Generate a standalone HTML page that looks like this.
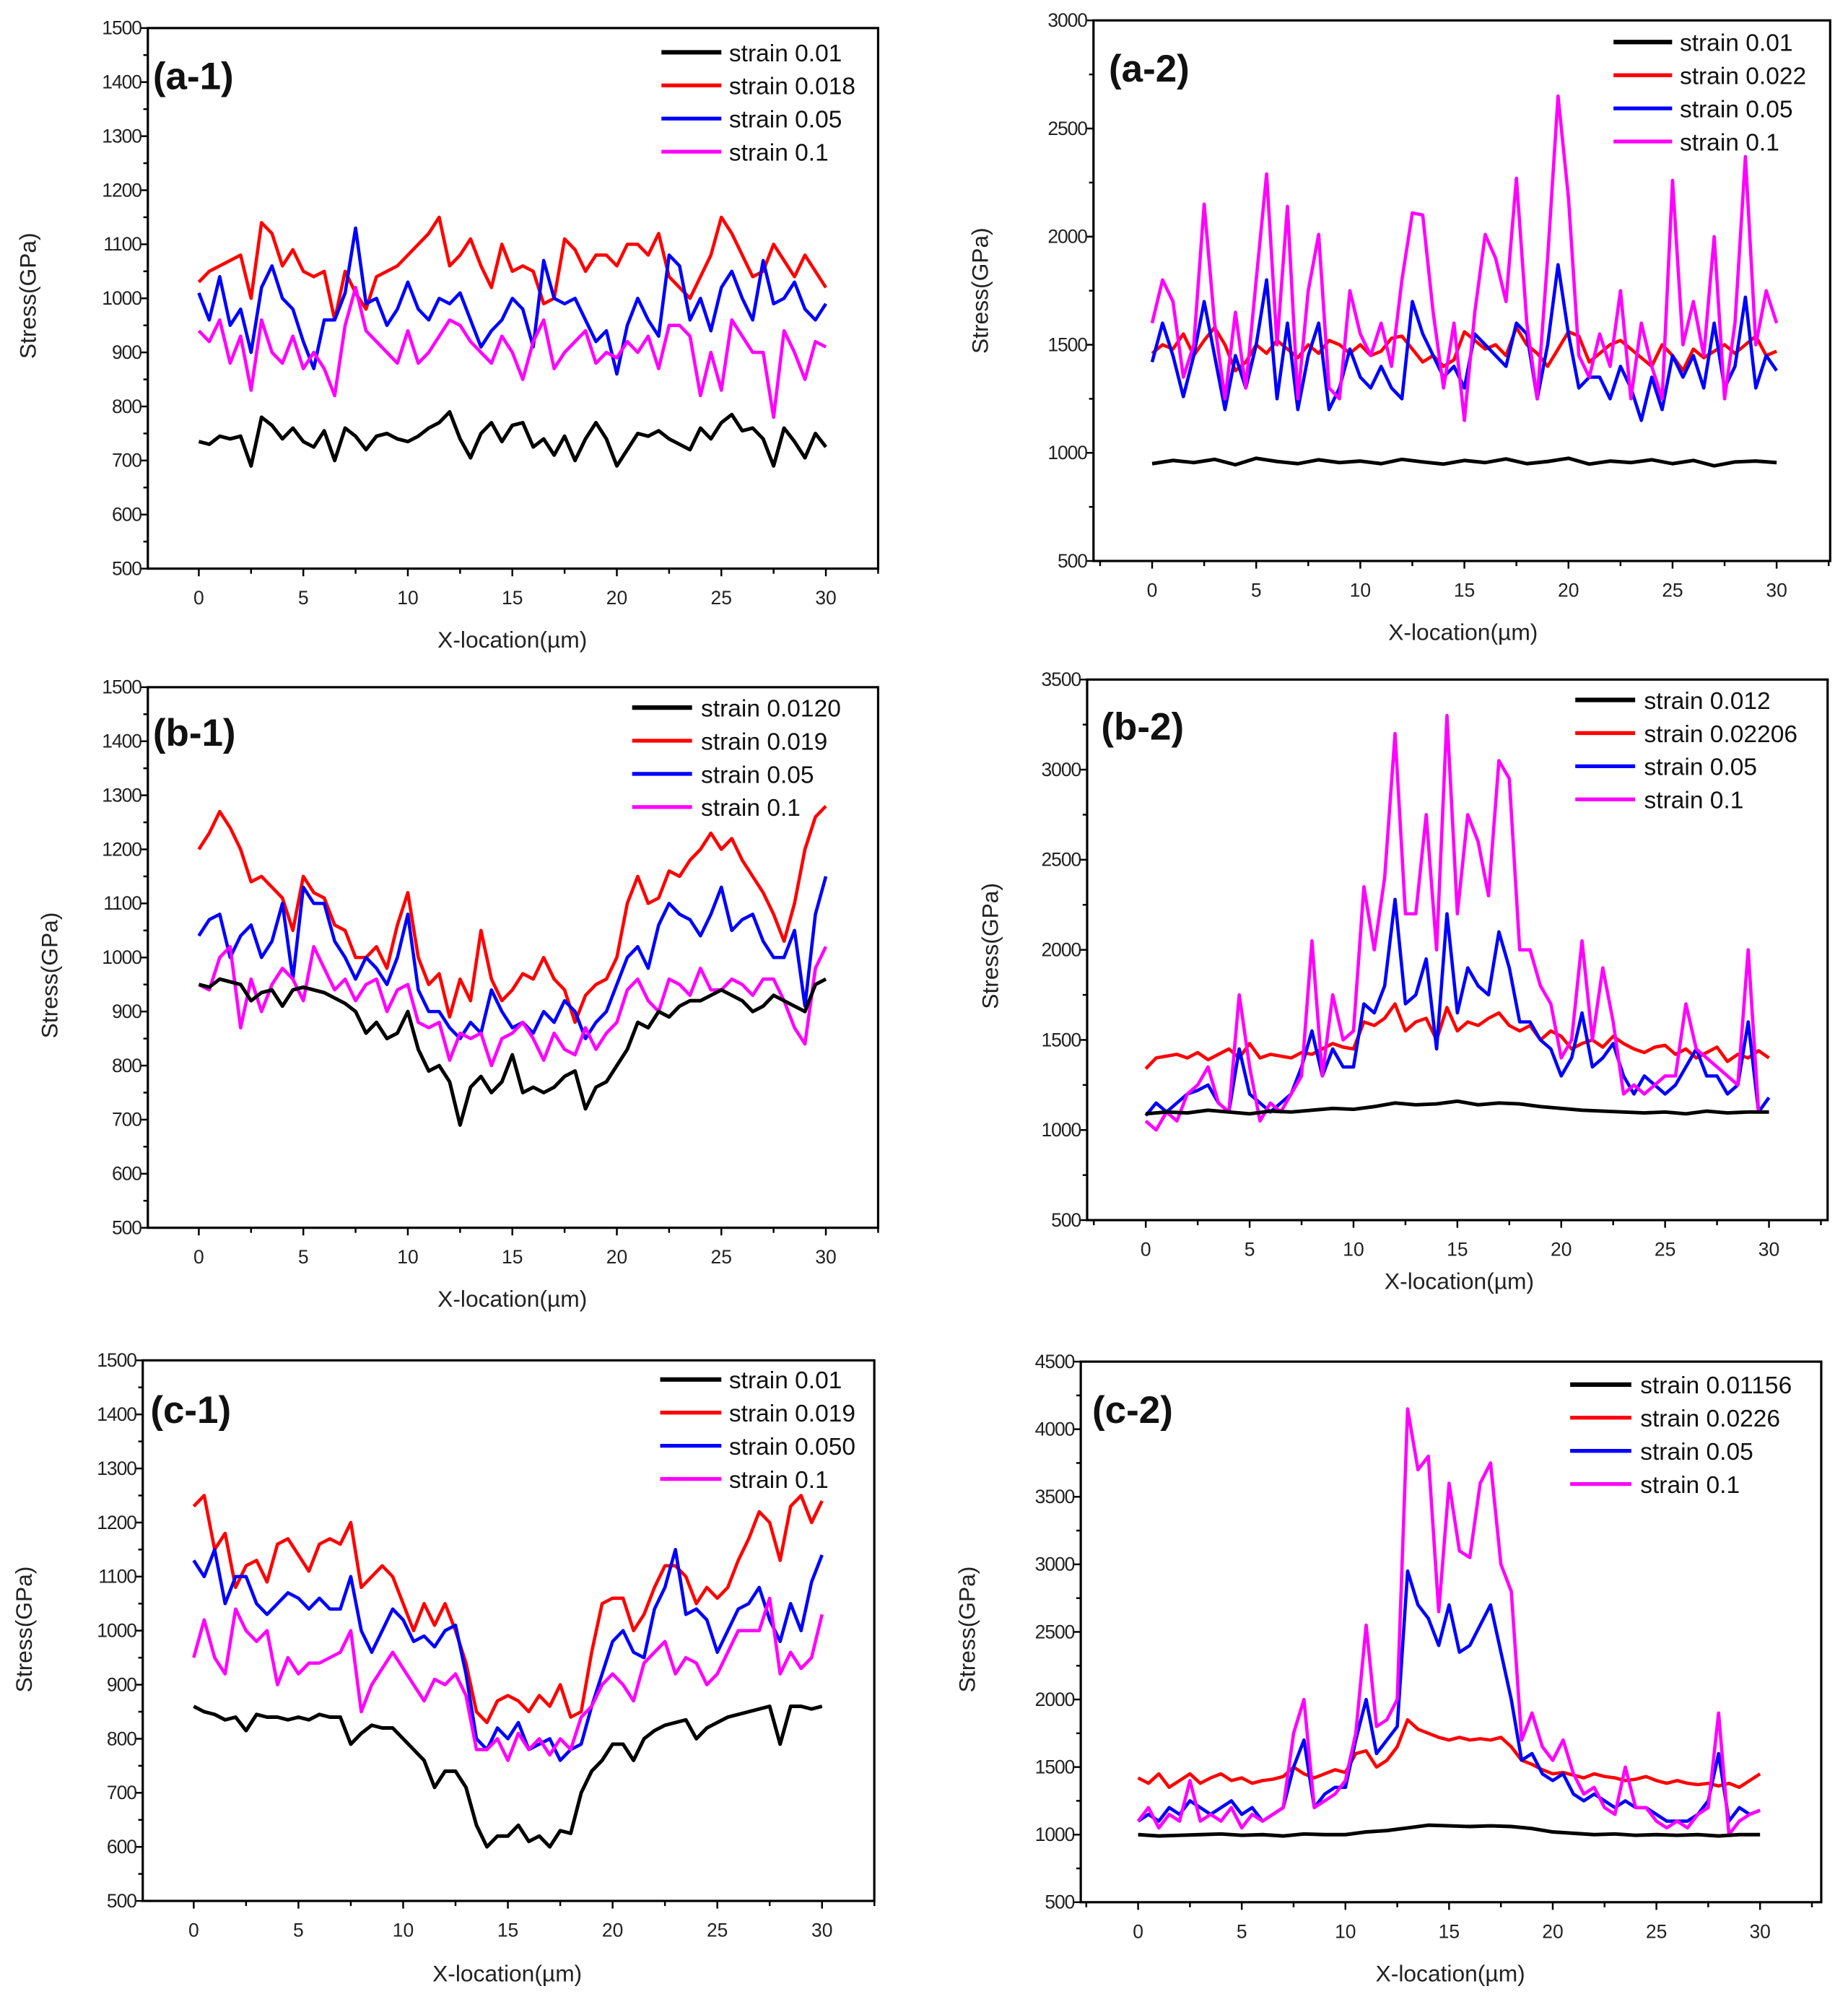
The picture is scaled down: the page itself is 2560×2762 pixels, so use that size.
<!DOCTYPE html>
<html><head><meta charset="utf-8"><style>
html,body{margin:0;padding:0;background:#fff;}
svg{display:block;font-family:"Liberation Sans",Arial,sans-serif;}
</style></head><body>
<svg id="fig" width="2560" height="2762" viewBox="0 0 1450 1564" preserveAspectRatio="none" xmlns="http://www.w3.org/2000/svg"></svg>
<script>
// ---- data (x spans 0..30 µm, evenly spaced samples) ----
const xTickLabels=["0","5","10","15","20","25","30"];
const a1Black=[735,730,745,740,745,690,780,765,740,760,735,725,755,700,760,745,720,745,750,740,735,745,760,770,790,740,705,750,770,735,765,770,725,740,710,745,700,740,770,740,690,720,750,745,755,740,730,720,760,740,770,785,755,760,740,690,760,735,705,750,725];
const a1Red=[1030,1050,1060,1070,1080,1000,1140,1120,1060,1090,1050,1040,1050,960,1050,1010,980,1040,1050,1060,1080,1100,1120,1150,1060,1080,1110,1060,1020,1100,1050,1060,1050,990,1000,1110,1090,1050,1080,1080,1060,1100,1100,1080,1120,1040,1020,1000,1040,1080,1150,1120,1080,1040,1050,1100,1070,1040,1080,1050,1020];
const a1Blue=[1010,960,1040,950,980,900,1020,1060,1000,980,920,870,960,960,1010,1130,990,1000,950,980,1030,980,960,1000,990,1010,960,910,940,960,1000,980,910,1070,1000,990,1000,960,920,940,860,950,1000,960,930,1080,1060,960,1000,940,1020,1050,1000,960,1070,990,1000,1030,980,960,990];
const a1Mag=[940,920,960,880,930,830,960,900,880,930,870,900,870,820,950,1020,940,920,900,880,940,880,900,930,960,950,920,900,880,930,900,850,920,960,870,900,920,940,880,900,890,920,900,930,870,950,950,930,820,900,830,960,930,900,900,780,940,900,850,920,910];

const a2Black=[950,965,955,970,945,975,960,950,968,955,962,950,970,958,948,965,955,972,950,960,975,948,962,955,968,950,965,940,958,962,955];
const a2Red=[1460,1500,1480,1550,1450,1520,1580,1500,1380,1420,1500,1460,1520,1480,1440,1500,1460,1520,1500,1460,1500,1450,1470,1530,1540,1480,1420,1450,1400,1430,1560,1520,1480,1500,1450,1580,1500,1460,1400,1480,1560,1540,1420,1460,1500,1520,1480,1440,1400,1500,1450,1380,1480,1440,1470,1500,1460,1500,1540,1450,1470];
const a2Blue=[1420,1600,1450,1260,1450,1700,1450,1200,1450,1300,1500,1800,1250,1600,1200,1450,1600,1200,1300,1480,1350,1300,1400,1300,1250,1700,1550,1450,1350,1400,1300,1550,1500,1450,1400,1600,1550,1250,1500,1870,1550,1300,1350,1350,1250,1400,1300,1150,1350,1200,1450,1350,1450,1300,1600,1300,1400,1720,1300,1450,1380];
const a2Mag=[1600,1800,1700,1350,1500,2150,1600,1250,1650,1300,1800,2290,1500,2140,1250,1750,2010,1300,1250,1750,1550,1450,1600,1400,1800,2110,2100,1650,1300,1600,1150,1650,2010,1900,1700,2270,1600,1250,1900,2650,2180,1450,1350,1550,1400,1750,1250,1600,1400,1250,2260,1500,1700,1450,2000,1250,1600,2370,1500,1750,1600];

const b1Black=[950,945,960,955,950,920,935,940,910,940,945,940,935,925,915,900,860,880,850,860,900,830,790,800,770,690,760,780,750,770,820,750,760,750,760,780,790,720,760,770,800,830,880,870,900,890,910,920,920,930,940,930,920,900,910,930,920,910,900,950,960];
const b1Red=[1200,1230,1270,1240,1200,1140,1150,1130,1110,1050,1150,1120,1110,1060,1050,1000,1000,1020,980,1060,1120,1000,950,970,890,960,920,1050,960,920,940,970,960,1000,960,940,880,930,950,960,1000,1100,1150,1100,1110,1160,1150,1180,1200,1230,1200,1220,1180,1150,1120,1080,1030,1100,1200,1260,1280];
const b1Blue=[1040,1070,1080,1000,1040,1060,1000,1030,1100,960,1130,1100,1100,1030,1000,960,1000,980,950,1000,1080,940,900,900,870,850,880,860,940,900,870,880,860,900,880,920,900,850,880,900,950,1000,1020,980,1060,1100,1080,1070,1040,1080,1130,1050,1070,1080,1030,1000,1000,1050,910,1080,1150];
const b1Mag=[950,940,1000,1020,870,960,900,950,980,960,920,1020,980,940,960,920,950,960,900,940,950,880,870,880,810,860,850,860,800,850,860,880,850,810,860,830,820,870,830,860,880,940,960,920,900,960,950,930,980,940,940,960,950,930,960,960,920,870,840,980,1020];

const b2Black=[1090,1100,1095,1110,1100,1090,1105,1100,1110,1120,1115,1130,1150,1140,1145,1160,1140,1150,1145,1130,1120,1110,1105,1100,1095,1100,1090,1105,1095,1100,1100];
const b2Red=[1340,1400,1410,1420,1400,1430,1390,1420,1450,1400,1480,1400,1420,1410,1400,1430,1420,1450,1480,1460,1450,1600,1580,1620,1700,1550,1600,1620,1500,1680,1550,1600,1580,1620,1650,1580,1550,1580,1500,1550,1520,1450,1480,1500,1460,1520,1480,1450,1430,1460,1470,1420,1450,1400,1430,1460,1380,1420,1400,1440,1400];
const b2Blue=[1080,1150,1100,1150,1200,1220,1250,1150,1100,1450,1200,1150,1100,1150,1200,1350,1550,1300,1450,1350,1350,1700,1650,1800,2280,1700,1750,1950,1450,2200,1650,1900,1800,1750,2100,1900,1600,1600,1500,1450,1300,1400,1650,1350,1400,1480,1300,1200,1300,1250,1200,1250,1350,1450,1300,1300,1200,1250,1600,1100,1180];
const b2Mag=[1050,1000,1100,1050,1200,1250,1350,1150,1100,1750,1350,1050,1150,1100,1200,1300,2050,1300,1750,1500,1550,2350,2000,2400,3200,2200,2200,2750,2000,3300,2200,2750,2600,2300,3050,2950,2000,2000,1800,1700,1400,1500,2050,1500,1900,1600,1200,1250,1200,1250,1300,1300,1700,1450,1400,1350,1300,1250,2000,1100,1100];

const c1Black=[860,850,845,835,840,815,845,840,840,835,840,835,845,840,840,790,810,825,820,820,800,780,760,710,740,740,710,640,600,620,620,640,610,620,600,630,625,700,740,760,790,790,760,800,815,825,830,835,800,820,830,840,845,850,855,860,790,860,860,855,860];
const c1Red=[1230,1250,1150,1180,1080,1120,1130,1090,1160,1170,1140,1110,1160,1170,1160,1200,1080,1100,1120,1100,1050,1000,1050,1010,1050,1000,940,850,830,870,880,870,850,880,860,900,840,850,960,1050,1060,1060,1000,1030,1080,1120,1120,1100,1050,1080,1060,1080,1130,1170,1220,1200,1130,1230,1250,1200,1240];
const c1Blue=[1130,1100,1150,1050,1100,1100,1050,1030,1050,1070,1060,1040,1060,1040,1040,1100,1000,960,1000,1040,1020,980,990,970,1000,1010,920,800,780,820,800,830,780,790,800,760,780,790,860,920,980,1000,960,950,1040,1080,1150,1030,1040,1020,960,1000,1040,1050,1080,1020,980,1050,1000,1090,1140];
const c1Mag=[950,1020,950,920,1040,1000,980,1000,900,950,920,940,940,950,960,1000,850,900,930,960,930,900,870,910,900,920,880,780,780,800,760,810,780,800,770,800,780,840,860,900,920,900,870,940,960,980,920,950,940,900,920,960,1000,1000,1000,1060,920,960,930,950,1030];

const c2Black=[1000,990,995,1000,1005,995,1000,990,1005,1000,1000,1020,1030,1050,1070,1065,1060,1065,1060,1045,1020,1010,1000,1005,995,1000,995,1000,990,1000,1000];
const c2Red=[1420,1380,1450,1350,1400,1450,1380,1420,1450,1400,1420,1380,1400,1410,1430,1500,1450,1420,1450,1480,1460,1600,1620,1500,1550,1650,1850,1780,1750,1720,1700,1720,1700,1710,1700,1720,1650,1550,1520,1480,1450,1460,1440,1420,1450,1430,1420,1400,1410,1430,1400,1380,1400,1380,1370,1380,1360,1380,1350,1400,1450];
const c2Blue=[1100,1150,1100,1200,1150,1250,1200,1150,1200,1250,1150,1200,1100,1150,1200,1500,1700,1200,1300,1350,1350,1700,2000,1600,1700,1800,2950,2700,2600,2400,2700,2350,2400,2550,2700,2350,2000,1550,1600,1450,1400,1450,1300,1250,1300,1250,1200,1250,1200,1200,1150,1100,1100,1100,1150,1250,1600,1100,1200,1150,1180];
const c2Mag=[1100,1200,1050,1150,1100,1400,1100,1150,1100,1200,1050,1150,1100,1150,1200,1750,2000,1200,1250,1300,1400,1750,2550,1800,1850,2000,4150,3700,3800,2650,3600,3100,3050,3600,3750,3000,2800,1700,1900,1650,1550,1700,1450,1300,1350,1200,1150,1500,1200,1200,1100,1050,1100,1050,1150,1200,1900,1000,1100,1150,1180];

const legA1=["strain 0.01","strain 0.018","strain 0.05","strain 0.1"];
const legA2=["strain 0.01","strain 0.022","strain 0.05","strain 0.1"];
const legB1=["strain 0.0120","strain 0.019","strain 0.05","strain 0.1"];
const legB2=["strain 0.012","strain 0.02206","strain 0.05","strain 0.1"];
const legC1=["strain 0.01","strain 0.019","strain 0.050","strain 0.1"];
const legC2=["strain 0.01156","strain 0.0226","strain 0.05","strain 0.1"];

const NS="http://www.w3.org/2000/svg";
const svg=document.getElementById('fig');
const COLORS=["#000000","#ff0000","#0000ff","#ff00ff"];
function mk(tag,attrs,parent){const e=document.createElementNS(NS,tag);for(const k in attrs)e.setAttribute(k,attrs[k]);(parent||svg).appendChild(e);return e;}

const panels=[
 {id:"a-1",L:116,R:689,T:22,B:446,x0:156,x30:648,ymin:500,ymax:1500,ystep:100,series:[a1Black,a1Red,a1Blue,a1Mag],leg:legA1,lbl:[120,70],lx:[519,566,572],ly:41,yl:[28,232],xl:[402,508]},
 {id:"a-2",L:858,R:1436,T:16,B:440,x0:904,x30:1394,ymin:500,ymax:3000,ystep:500,series:[a2Black,a2Red,a2Blue,a2Mag],leg:legA2,lbl:[870,64],lx:[1266,1312,1318],ly:33,yl:[775,228],xl:[1148,502]},
 {id:"b-1",L:116,R:689,T:539,B:963,x0:156,x30:648,ymin:500,ymax:1500,ystep:100,series:[b1Black,b1Red,b1Blue,b1Mag],leg:legB1,lbl:[120,585],lx:[496,543,550],ly:555,yl:[45,765],xl:[402,1025]},
 {id:"b-2",L:853,R:1434,T:533,B:957,x0:899,x30:1388,ymin:500,ymax:3500,ystep:500,series:[b2Black,b2Red,b2Blue,b2Mag],leg:legB2,lbl:[864,580],lx:[1236,1283,1290],ly:549,yl:[783,742],xl:[1145,1011]},
 {id:"c-1",L:112,R:686,T:1067,B:1491,x0:152,x30:645,ymin:500,ymax:1500,ystep:100,series:[c1Black,c1Red,c1Blue,c1Mag],leg:legC1,lbl:[118,1116],lx:[518,566,572],ly:1082,yl:[25,1278],xl:[398,1554]},
 {id:"c-2",L:848,R:1429,T:1068,B:1492,x0:893,x30:1381,ymin:500,ymax:4500,ystep:500,series:[c2Black,c2Red,c2Blue,c2Mag],leg:legC2,lbl:[857,1116],lx:[1232,1280,1287],ly:1086,yl:[765,1278],xl:[1138,1554]}
];

panels.forEach(p=>{
  const g=mk('g',{});
  
  
  const xs=v=>p.x0+(p.x30-p.x0)*v/30;
  const ys=v=>p.B-(p.B-p.T)*(v-p.ymin)/(p.ymax-p.ymin);
  const order=[1,2,3,0];
  order.forEach(si=>{
    const arr=p.series[si];
    const pts=arr.map((v,i)=>xs(i*30/(arr.length-1)).toFixed(2)+","+ys(v).toFixed(2)).join(" ");
    const pl=mk('polyline',{points:pts,fill:"none",stroke:COLORS[si],"stroke-width":si===0?2.8:2.6,"stroke-linejoin":"round"},g);
    
    
  });
  const fr=mk('rect',{x:p.L,y:p.T,width:p.R-p.L,height:p.B-p.T,fill:"none",stroke:"#000","stroke-width":1.8},g);
  
  
  for(let v=p.ymin;v<=p.ymax+1e-6;v+=p.ystep/2){
    const major=Math.abs(((v-p.ymin)/p.ystep)-Math.round((v-p.ymin)/p.ystep))<1e-6;
    const y=ys(v);
    mk('line',{x1:p.L,x2:p.L-(major?6:3.5),y1:y,y2:y,stroke:"#000","stroke-width":1.4},g);
    if(major){
      const t=mk('text',{x:p.L-5,y:y+5,"text-anchor":"end","font-size":15,fill:"#222","letter-spacing":"-0.6"},g);
      t.textContent=String(v);
      
      
    }
  }
  for(let v=-2.5;v<=32.5;v+=2.5){
    const x=xs(v); if(x<p.L-0.5||x>p.R+0.5) continue;
    const major=Math.abs(v/5-Math.round(v/5))<1e-6;
    mk('line',{x1:x,x2:x,y1:p.B,y2:p.B+(major?6:4),stroke:"#000","stroke-width":1.4},g);
  }
  xTickLabels.forEach((lab,i)=>{
    const t=mk('text',{x:xs(i*5),y:p.B+28,"text-anchor":"middle","font-size":15,fill:"#222"},g);
    t.textContent=lab;
    
    
  });
  const xt=mk('text',{x:p.xl[0],y:p.xl[1],"text-anchor":"middle","font-size":18,fill:"#222"},g);
  xt.textContent="X-location(µm)";
  
  
  const yt=mk('text',{x:0,y:0,"text-anchor":"middle","font-size":18,fill:"#222",transform:`translate(${p.yl[0]},${p.yl[1]}) rotate(-90)`},g);
  yt.textContent="Stress(GPa)";
  
  
  const pl=mk('text',{x:p.lbl[0],y:p.lbl[1],"font-size":30,"font-weight":"bold",fill:"#111"},g);
  pl.textContent="("+p.id+")";
  
  
  p.leg.forEach((lab,i)=>{
    const y=p.ly+i*26;
    const ln=mk('line',{x1:p.lx[0],x2:p.lx[1],y1:y,y2:y,stroke:COLORS[i],"stroke-width":i===0?3.5:3},g);
    
    
    const t=mk('text',{x:p.lx[2],y:y+7,"font-size":19,fill:"#111"},g);
    t.textContent=lab;
    
    
  });
});
</script>
</body></html>
